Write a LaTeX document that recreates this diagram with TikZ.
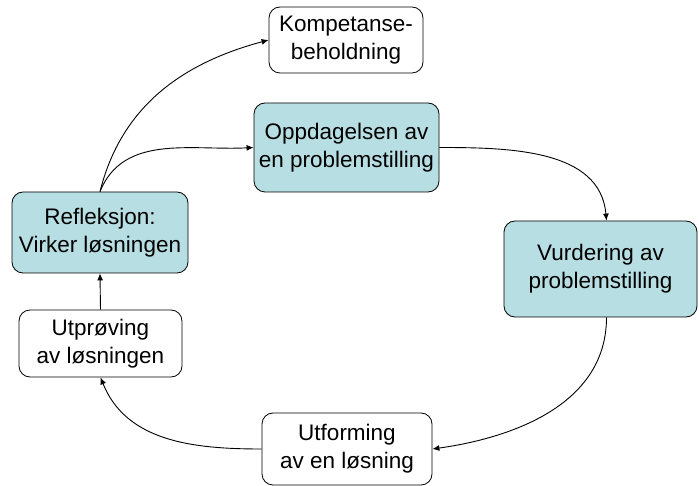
\documentclass[tikz,border=0pt]{standalone}
\usepackage{fontspec}
\setmainfont{Liberation Sans}
\usepackage{xcolor}
\usetikzlibrary{arrows.meta}
\definecolor{boxteal}{RGB}{183,222,226}

\begin{document}
\begin{tikzpicture}[x=1pt, y=-1pt,
    stage/.style={draw, line width=0.8pt, rounded corners=11pt, align=center,
        inner sep=0pt, font=\fontsize{22.5}{28}\selectfont},
    keystage/.style={stage, fill=boxteal},
    flow/.style={line width=0.9pt, -{Latex[length=7pt,width=6pt]}}]
    \useasboundingbox (0,0) rectangle (699,486);
    \coordinate (PK) at (346, 40);
    \coordinate (PO) at (346.5, 147.5);
    \coordinate (PV) at (600.5, 269);
    \coordinate (PU) at (347, 449);
    \coordinate (PT) at (100.5, 343.5);
    \coordinate (PR) at (100, 232.5);
    \node[stage, minimum width=154pt, minimum height=66pt] (komp) at (PK) {Kompetanse-\\beholdning};
    \node[keystage, minimum width=185pt, minimum height=89pt] (oppd) at (PO) {Oppdagelsen av\\en problemstilling};
    \node[keystage, minimum width=193pt, minimum height=96pt] (vurd) at (PV) {Vurdering av\\problemstilling};
    \node[stage, minimum width=170pt, minimum height=72pt] (utfo) at (PU) {Utforming\\av en løsning};
    \node[stage, minimum width=163pt, minimum height=67pt] (utpr) at (PT) {Utprøving\\av løsningen};
    \node[keystage, minimum width=176pt, minimum height=81pt] (refl) at (PR) {Refleksjon:\\Virker løsningen};
    \draw[flow] (refl.north) to[out=76, in=195] (komp.west);
    \draw[flow] (refl.north) to[out=68, in=183] (oppd.west);
    \draw[flow] (oppd.east) to[out=0, in=95] ([xshift=6pt]vurd.north);
    \draw[flow] ([xshift=6pt]vurd.south) to[out=-90, in=8] (utfo.east);
    \draw[flow] (utfo.west) to[out=180, in=-68] (utpr.south);
    \draw[flow] (utpr.north) -- (refl.south);
\end{tikzpicture}
\end{document}
